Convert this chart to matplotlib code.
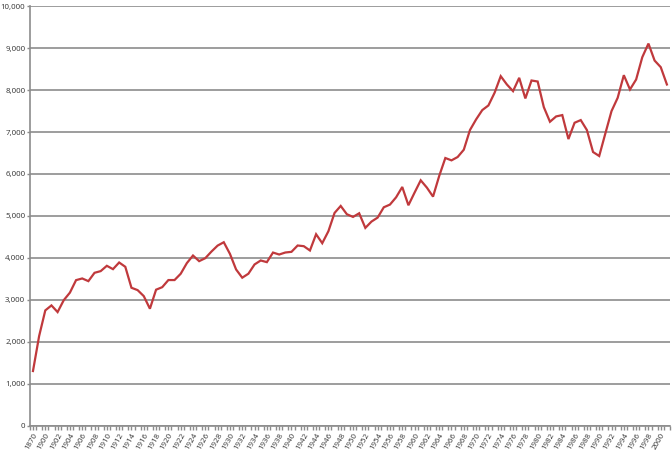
import matplotlib
matplotlib.use("Agg")
import matplotlib.pyplot as plt
from matplotlib.ticker import FuncFormatter, FixedLocator

years = ["1870", "1890"] + [str(y) for y in range(1900, 2002)]
values = [
    1300, 2135,
    2746, 2865, 2706, 2990, 3170, 3468, 3508, 3444, 3643, 3683,
    3810, 3730, 3889, 3786, 3286, 3230, 3087, 2786, 3240, 3300,
    3470, 3470, 3620, 3874, 4055, 3921, 3992, 4150, 4292, 4372,
    4095, 3723, 3526, 3621, 3842, 3937, 3897, 4126, 4079, 4127,
    4143, 4294, 4278, 4175, 4563, 4349, 4635, 5071, 5238, 5040,
    4976, 5063, 4714, 4865, 4960, 5206, 5270, 5444, 5690, 5254,
    5556, 5849, 5675, 5460, 5952, 6381, 6325, 6405, 6579, 7048,
    7302, 7524, 7635, 7937, 8333, 8135, 7976, 8294, 7802, 8230,
    8206, 7595, 7246, 7373, 7405, 6833, 7222, 7286, 7048, 6524,
    6429, 6968, 7500, 7817, 8357, 8016, 8254, 8786, 9111, 8706,
    8548, 8135,
]
y_ticks = list(range(0, 10001, 1000))

plt.rcParams["font.family"] = ["Noto Sans", "DejaVu Sans"]

fig = plt.figure(figsize=(6.72, 4.5), dpi=100)
ax = fig.add_axes([0.0445, 0.0544, 0.9525, 0.9316])

x = list(range(len(years)))
ax.plot(x, values, color="#c0393c", linewidth=1.6, solid_joinstyle="miter", zorder=3)

ax.set_xlim(-0.5, len(years) - 0.5)
ax.set_ylim(0, 10000)

ax.set_yticks(y_ticks)
ax.yaxis.set_major_formatter(FuncFormatter(lambda v, p: f"{int(v):,}"))
ax.grid(axis="y", color="#8c8c8c", linewidth=1.2, zorder=1)
ax.grid(axis="x", visible=False)

label_idx = list(range(0, len(years), 2))
ax.set_xticks(label_idx)
ax.set_xticklabels([years[i] for i in label_idx], rotation=60, ha="right",
                   rotation_mode="anchor", fontsize=5.7, color="#404040")
ax.xaxis.set_minor_locator(FixedLocator([i + 0.5 for i in range(-1, len(years))]))
ax.tick_params(axis="x", which="both", length=3, color="#8c8c8c", width=1, pad=1.5)
ax.tick_params(axis="y", length=2.5, color="#8c8c8c", width=1, labelsize=5.7,
               labelcolor="#404040", pad=0.8)

for s in ["top", "right"]:
    ax.spines[s].set_visible(False)
for s in ["left", "bottom"]:
    ax.spines[s].set_color("#8c8c8c")
    ax.spines[s].set_linewidth(1.2)

fig.savefig("out.png", dpi=100)
